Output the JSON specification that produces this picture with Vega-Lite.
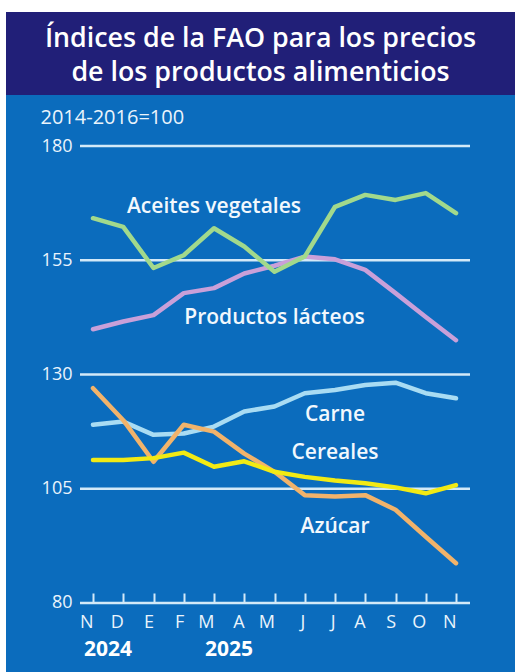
{
  "$schema": "https://vega.github.io/schema/vega-lite/v6.json",
  "background": "white",
  "padding": {"left": 6, "top": 12, "right": 0, "bottom": 0},
  "spacing": 0,
  "config": {"font": "Open Sans", "view": {"stroke": null}},
  "datasets": {
    "series": [
      {"mes": "2024-11", "serie": "Productos lácteos", "valor": 139.9},
      {"mes": "2024-12", "serie": "Productos lácteos", "valor": 141.6},
      {"mes": "2025-01", "serie": "Productos lácteos", "valor": 143.0},
      {"mes": "2025-02", "serie": "Productos lácteos", "valor": 147.8},
      {"mes": "2025-03", "serie": "Productos lácteos", "valor": 148.9},
      {"mes": "2025-04", "serie": "Productos lácteos", "valor": 152.1},
      {"mes": "2025-05", "serie": "Productos lácteos", "valor": 153.8},
      {"mes": "2025-06", "serie": "Productos lácteos", "valor": 155.8},
      {"mes": "2025-07", "serie": "Productos lácteos", "valor": 155.2},
      {"mes": "2025-08", "serie": "Productos lácteos", "valor": 152.9},
      {"mes": "2025-09", "serie": "Productos lácteos", "valor": 147.8},
      {"mes": "2025-10", "serie": "Productos lácteos", "valor": 142.6},
      {"mes": "2025-11", "serie": "Productos lácteos", "valor": 137.5},
      {"mes": "2024-11", "serie": "Aceites vegetales", "valor": 164.2},
      {"mes": "2024-12", "serie": "Aceites vegetales", "valor": 162.3},
      {"mes": "2025-01", "serie": "Aceites vegetales", "valor": 153.3},
      {"mes": "2025-02", "serie": "Aceites vegetales", "valor": 156.1},
      {"mes": "2025-03", "serie": "Aceites vegetales", "valor": 162.0},
      {"mes": "2025-04", "serie": "Aceites vegetales", "valor": 158.0},
      {"mes": "2025-05", "serie": "Aceites vegetales", "valor": 152.5},
      {"mes": "2025-06", "serie": "Aceites vegetales", "valor": 155.8},
      {"mes": "2025-07", "serie": "Aceites vegetales", "valor": 166.7},
      {"mes": "2025-08", "serie": "Aceites vegetales", "valor": 169.3},
      {"mes": "2025-09", "serie": "Aceites vegetales", "valor": 168.2},
      {"mes": "2025-10", "serie": "Aceites vegetales", "valor": 169.7},
      {"mes": "2025-11", "serie": "Aceites vegetales", "valor": 165.3},
      {"mes": "2024-11", "serie": "Carne", "valor": 119.0},
      {"mes": "2024-12", "serie": "Carne", "valor": 119.7},
      {"mes": "2025-01", "serie": "Carne", "valor": 116.8},
      {"mes": "2025-02", "serie": "Carne", "valor": 117.1},
      {"mes": "2025-03", "serie": "Carne", "valor": 118.6},
      {"mes": "2025-04", "serie": "Carne", "valor": 121.9},
      {"mes": "2025-05", "serie": "Carne", "valor": 123.0},
      {"mes": "2025-06", "serie": "Carne", "valor": 125.9},
      {"mes": "2025-07", "serie": "Carne", "valor": 126.6},
      {"mes": "2025-08", "serie": "Carne", "valor": 127.7},
      {"mes": "2025-09", "serie": "Carne", "valor": 128.2},
      {"mes": "2025-10", "serie": "Carne", "valor": 125.9},
      {"mes": "2025-11", "serie": "Carne", "valor": 124.8},
      {"mes": "2024-11", "serie": "Azúcar", "valor": 127.0},
      {"mes": "2024-12", "serie": "Azúcar", "valor": 120.0},
      {"mes": "2025-01", "serie": "Azúcar", "valor": 110.9},
      {"mes": "2025-02", "serie": "Azúcar", "valor": 119.0},
      {"mes": "2025-03", "serie": "Azúcar", "valor": 117.5},
      {"mes": "2025-04", "serie": "Azúcar", "valor": 112.7},
      {"mes": "2025-05", "serie": "Azúcar", "valor": 108.7},
      {"mes": "2025-06", "serie": "Azúcar", "valor": 103.6},
      {"mes": "2025-07", "serie": "Azúcar", "valor": 103.3},
      {"mes": "2025-08", "serie": "Azúcar", "valor": 103.6},
      {"mes": "2025-09", "serie": "Azúcar", "valor": 100.4},
      {"mes": "2025-10", "serie": "Azúcar", "valor": 94.5},
      {"mes": "2025-11", "serie": "Azúcar", "valor": 88.7},
      {"mes": "2024-11", "serie": "Cereales", "valor": 111.3},
      {"mes": "2024-12", "serie": "Cereales", "valor": 111.3},
      {"mes": "2025-01", "serie": "Cereales", "valor": 111.7},
      {"mes": "2025-02", "serie": "Cereales", "valor": 112.9},
      {"mes": "2025-03", "serie": "Cereales", "valor": 109.8},
      {"mes": "2025-04", "serie": "Cereales", "valor": 111.0},
      {"mes": "2025-05", "serie": "Cereales", "valor": 108.7},
      {"mes": "2025-06", "serie": "Cereales", "valor": 107.6},
      {"mes": "2025-07", "serie": "Cereales", "valor": 106.8},
      {"mes": "2025-08", "serie": "Cereales", "valor": 106.2},
      {"mes": "2025-09", "serie": "Cereales", "valor": 105.3},
      {"mes": "2025-10", "serie": "Cereales", "valor": 104.0},
      {"mes": "2025-11", "serie": "Cereales", "valor": 105.8}
    ]
  },
  "vconcat": [
    {
      "width": 509,
      "height": 83,
      "view": {"fill": "#211F78", "stroke": null},
      "data": {"values": [
        {"linea": 1, "texto": "Índices de la FAO para los precios"},
        {"linea": 2, "texto": "de los productos alimenticios"}
      ]},
      "mark": {"type": "text", "color": "white", "fontSize": 26.8, "fontWeight": 600, "baseline": "middle", "align": "center", "font": "Open Sans"},
      "encoding": {
        "y": {"field": "linea", "type": "ordinal", "axis": null, "scale": {"type": "point", "padding": 0.72, "align": 0.56}},
        "text": {"field": "texto"}
      }
    },
    {
      "width": 509,
      "height": 577,
      "view": {"fill": "#0B6CBD", "stroke": null},
      "layer": [
        {
          "data": {"values": [
            {"valor": 80}, {"valor": 105}, {"valor": 130}, {"valor": 155}, {"valor": 180}
          ]},
          "mark": {"type": "rule", "color": "#D3E9F8", "strokeWidth": 2.5, "xOffset": -13, "x2Offset": 14},
          "encoding": {
            "x": {"datum": "2024-11", "type": "ordinal", "scale": {"type": "point", "padding": 0, "range": [87, 450], "domain": ["2024-11","2024-12","2025-01","2025-02","2025-03","2025-04","2025-05","2025-06","2025-07","2025-08","2025-09","2025-10","2025-11"]}},
            "x2": {"datum": "2025-11"},
            "y": {"field": "valor", "type": "quantitative", "scale": {"domain": [64.9, 191.16], "nice": false, "zero": false}}
          }
        },
        {
          "data": {"name": "series"},
          "mark": {"type": "line", "strokeWidth": 4.5, "strokeCap": "round", "strokeJoin": "round"},
          "encoding": {
            "x": {
              "field": "mes", "type": "ordinal",
              "scale": {"type": "point", "padding": 0, "range": [87, 450], "domain": ["2024-11","2024-12","2025-01","2025-02","2025-03","2025-04","2025-05","2025-06","2025-07","2025-08","2025-09","2025-10","2025-11"]},
              "axis": {
                "title": null, "domain": false, "grid": false, "ticks": true, "tickSize": 10, "tickWidth": 2, "tickColor": "#D3E9F8",
                "offset": -79, "labelPadding": 19, "labelFontSize": 18, "labelColor": "#EAF4FC", "labelAngle": 0,
                "labelExpr": "['','E','F','M','A','M','J','J','A','S','O','N','D'][toNumber(slice(datum.value,5,7))]"
              }
            },
            "y": {
              "field": "valor", "type": "quantitative",
              "scale": {"domain": [64.9, 191.16], "nice": false, "zero": false},
              "axis": {
                "values": [80, 105, 130, 155, 180], "domain": false, "ticks": false, "grid": false, "minExtent": 0,
                "offset": -74, "labelPadding": 8, "labelFontSize": 18, "labelColor": "#EAF4FC",
                "title": "2014-2016=100", "titleAngle": 0, "titleAlign": "left", "titleBaseline": "middle",
                "titleX": -40, "titleY": 22, "titleFontSize": 20, "titleFontWeight": "normal", "titleColor": "#EAF4FC"
              }
            },
            "color": {
              "field": "serie", "type": "nominal", "legend": null,
              "scale": {
                "domain": ["Productos lácteos", "Aceites vegetales", "Carne", "Azúcar", "Cereales"],
                "range": ["#C9A0D9", "#A2D98C", "#A9DCF3", "#F1B36B", "#F2EA14"]
              }
            }
          }
        },
        {
          "data": {"values": [
            {"mes": "2025-03", "valor": 166.7, "etiqueta": "Aceites vegetales"},
            {"mes": "2025-05", "valor": 142.3, "etiqueta": "Productos lácteos"},
            {"mes": "2025-07", "valor": 121.1, "etiqueta": "Carne"},
            {"mes": "2025-07", "valor": 112.8, "etiqueta": "Cereales"},
            {"mes": "2025-07", "valor": 96.7, "etiqueta": "Azúcar"}
          ]},
          "mark": {"type": "text", "color": "#F2F8FD", "fontSize": 21, "fontWeight": 600, "align": "center", "baseline": "middle"},
          "encoding": {
            "x": {"field": "mes", "type": "ordinal"},
            "y": {"field": "valor", "type": "quantitative"},
            "text": {"field": "etiqueta"}
          }
        },
        {
          "data": {"values": [
            {"mes": "2024-11", "anio": "2024"},
            {"mes": "2025-03", "anio": "2025"}
          ]},
          "mark": {"type": "text", "color": "white", "fontSize": 21, "fontWeight": "bold", "align": "left", "baseline": "middle", "dx": -9, "dy": 47},
          "encoding": {
            "x": {"field": "mes", "type": "ordinal"},
            "y": {"datum": 80, "type": "quantitative"},
            "text": {"field": "anio"}
          }
        }
      ]
    }
  ]
}
